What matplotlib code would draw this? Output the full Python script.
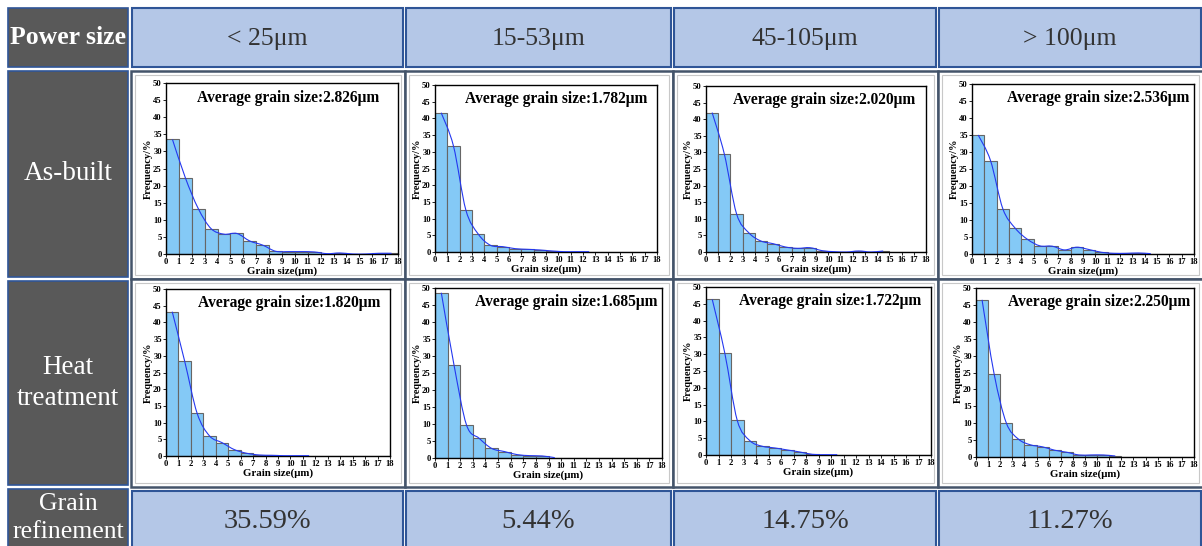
import numpy as np
import matplotlib
matplotlib.use('Agg')
import matplotlib.pyplot as plt
from matplotlib.patches import Rectangle, PathPatch
from matplotlib.path import Path

# ── Data ──────────────────────────────────────────────────────────────────────
powder_sizes = ['< 25\u03bcm', '15-53\u03bcm', '45-105\u03bcm', '> 100\u03bcm']
row_labels   = ['As-built', 'Heat\ntreatment']
refinement   = ['35.59%', '5.44%', '14.75%', '11.27%']

avg_built = ['2.826', '1.782', '2.020', '2.536']
avg_heat  = ['1.820', '1.685', '1.722', '2.250']

# frequency (%) per 1 μm bin, 0-1 ... 17-18
freq_built_25  = [33.5, 22.3, 13.3, 7.4, 5.8, 6.0, 3.8, 2.6, 0.8, 0.7, 0.7, 0.6, 0.1, 0.3, 0.0, 0.0, 0.2, 0.2]
freq_built_53  = [41.7, 31.7, 12.6, 5.4, 2.0, 1.6, 1.0, 0.8, 0.6, 0.3, 0.1, 0.1, 0.1, 0.0, 0.0, 0.0, 0.0, 0.0]
freq_built_105 = [42.0, 29.5, 11.5, 5.8, 3.3, 2.5, 1.5, 1.1, 1.3, 0.4, 0.1, 0.0, 0.3, 0.0, 0.3, 0.0, 0.0, 0.0]
freq_built_100 = [35.0, 27.5, 13.3, 7.6, 4.3, 2.4, 2.3, 1.2, 2.0, 1.3, 0.5, 0.2, 0.2, 0.3, 0.1, 0.0, 0.0, 0.0]

freq_heat_25  = [43.2, 28.4, 12.8, 6.0, 4.0, 1.9, 0.8, 0.3, 0.2, 0.1, 0.1, 0.1, 0.0, 0.0, 0.0, 0.0, 0.0, 0.0]
freq_heat_53  = [48.6, 27.5, 9.7, 5.8, 2.8, 1.9, 1.0, 0.7, 0.6, 0.1, 0.0, 0.0, 0.0, 0.0, 0.0, 0.0, 0.0, 0.0]
freq_heat_105 = [46.3, 30.4, 10.3, 4.3, 2.6, 2.1, 1.5, 0.9, 0.2, 0.1, 0.1, 0.0, 0.0, 0.0, 0.0, 0.0, 0.0, 0.0]
freq_heat_100 = [46.5, 24.5, 10.1, 5.3, 3.6, 3.0, 2.0, 1.4, 0.6, 0.6, 0.6, 0.3, 0.0, 0.0, 0.0, 0.0, 0.0, 0.0]

freq_built = [freq_built_25, freq_built_53, freq_built_105, freq_built_100]
freq_heat  = [freq_heat_25, freq_heat_53, freq_heat_105, freq_heat_100]

# ── Layout (pixels) ───────────────────────────────────────────────────────────
W, H = 1202, 546
col_x   = [131, 405, 673, 938, 1203]
row_y   = [71, 279, 487]
axes_px = [  # left, top, right, bottom
    [(166, 83, 398, 254), (435, 85, 657, 252), (706, 86, 926, 252), (972, 84, 1194, 254)],
    [(166, 289, 390, 456), (435, 288, 662, 458), (706, 287, 931, 455), (976, 288, 1194, 457)],
]
# right edge of the "Average grain size" label, as axes fraction
label_right = [[0.92, 0.955, 0.95, 0.98], [0.955, 0.98, 0.955, 0.985]]

DARK = '#595959'
CELL = '#B4C7E7'
CELL_EDGE = '#2F5597'
GRID = '#44546A'
BAR = '#84C9F6'
SERIF = 'Liberation Serif'

fig = plt.figure(figsize=(W / 100, H / 100), dpi=100)
bg = fig.add_axes([0, 0, 1, 1])
bg.set_xlim(0, W)
bg.set_ylim(H, 0)
bg.axis('off')

# header row
bg.add_patch(Rectangle((8, 8), 120, 59, facecolor=DARK, edgecolor=CELL_EDGE, lw=1.2))
bg.text(68, 38, 'Power size', color='white', fontsize=18.5, fontweight='bold',
        family=SERIF, ha='center', va='center')
for i, lab in enumerate(powder_sizes):
    x0, x1 = col_x[i] + 1, col_x[i + 1] - 2
    bg.add_patch(Rectangle((x0, 8), x1 - x0, 59, facecolor=CELL, edgecolor=CELL_EDGE, lw=1.5))
    bg.text((x0 + x1) / 2, 39, lab, color='#333333', fontsize=18.5, family=SERIF,
            ha='center', va='center')

# row headers
bg.add_patch(Rectangle((8, 71), 120, 206, facecolor=DARK, edgecolor=CELL_EDGE, lw=1.2))
bg.add_patch(Rectangle((8, 281), 120, 204, facecolor=DARK, edgecolor=CELL_EDGE, lw=1.2))
bg.add_patch(Rectangle((8, 489), 120, 60, facecolor=DARK, edgecolor=CELL_EDGE, lw=1.2))
bg.text(68, 174, row_labels[0], color='white', fontsize=19.5, family=SERIF,
        ha='center', va='center')
bg.text(68, 383, row_labels[1], color='white', fontsize=19.5, family=SERIF,
        ha='center', va='center', linespacing=1.3)
bg.text(68, 518, 'Grain\nrefinement', color='white', fontsize=18.5, family=SERIF,
        ha='center', va='center', linespacing=1.38)

# panel grid with inner light frames
for i in range(4):
    for j in range(2):
        x0, x1 = col_x[i], col_x[i + 1]
        y0, y1 = row_y[j], row_y[j + 1]
        bg.add_patch(Rectangle((x0, y0), x1 - x0, y1 - y0, facecolor='white',
                               edgecolor=GRID, lw=1.8))
        bg.add_patch(Rectangle((x0 + 4, y0 + 4), x1 - x0 - 8, y1 - y0 - 8,
                               facecolor='none', edgecolor='#C8C8C8', lw=0.8))

# refinement row
for i, lab in enumerate(refinement):
    x0, x1 = col_x[i] + 1, col_x[i + 1] - 2
    bg.add_patch(Rectangle((x0, 491), x1 - x0, 60, facecolor=CELL, edgecolor=CELL_EDGE, lw=1.5))
    bg.text((x0 + x1) / 2, 521, lab, color='#333333', fontsize=20.5, family=SERIF,
            ha='center', va='center')


def smooth_path(xs, ys):
    """Catmull-Rom curve through the points, as cubic Bezier segments."""
    pts = np.column_stack([xs, ys])
    verts = [pts[0]]
    codes = [Path.MOVETO]
    for k in range(len(pts) - 1):
        p0 = pts[k - 1] if k > 0 else pts[k]
        p1, p2 = pts[k], pts[k + 1]
        p3 = pts[k + 2] if k + 2 < len(pts) else pts[k + 1]
        verts += [p1 + (p2 - p0) / 6, p2 - (p3 - p1) / 6, p2]
        codes += [Path.CURVE4] * 3
    return Path(verts, codes)


def histogram(box, freq, avg, xr):
    l, t, r, b = box
    ax = fig.add_axes([l / W, 1 - b / H, (r - l) / W, (b - t) / H])
    edges = np.arange(len(freq) + 1)
    ax.bar(edges[:-1], freq, width=1, align='edge', color=BAR,
           edgecolor='#666666', linewidth=0.8, zorder=2)
    freq = np.asarray(freq)
    last = np.nonzero(freq)[0][-1]
    centers = edges[:last + 1] + 0.5
    ax.add_patch(PathPatch(smooth_path(centers, freq[:last + 1]), facecolor='none',
                           edgecolor='#2438F0', lw=0.8, zorder=3))
    ax.set_xlim(0, 18)
    ax.set_ylim(0, 50)
    ax.set_xticks(range(19))
    ax.set_yticks(range(0, 51, 5))
    ax.tick_params(length=2, width=0.6, pad=1, labelsize=6.2)
    for lab in ax.get_xticklabels() + ax.get_yticklabels():
        lab.set_family(SERIF)
        lab.set_fontweight('bold')
    for s in ax.spines.values():
        s.set_linewidth(1.0)
    ax.set_xlabel('Grain size(\u03bcm)', fontsize=7.8, fontweight='bold',
                  family=SERIF, labelpad=0)
    ax.set_ylabel('Frequency/%', fontsize=7.5, fontweight='bold',
                  family=SERIF, labelpad=0)
    ax.text(xr, 0.915, f'Average grain size:{avg}\u03bcm', transform=ax.transAxes,
            ha='right', va='center', fontsize=11.2, fontweight='bold', family=SERIF)


for i in range(4):
    histogram(axes_px[0][i], freq_built[i], avg_built[i], label_right[0][i])
    histogram(axes_px[1][i], freq_heat[i], avg_heat[i], label_right[1][i])

plt.savefig('out.png', dpi=100)
plt.close()
